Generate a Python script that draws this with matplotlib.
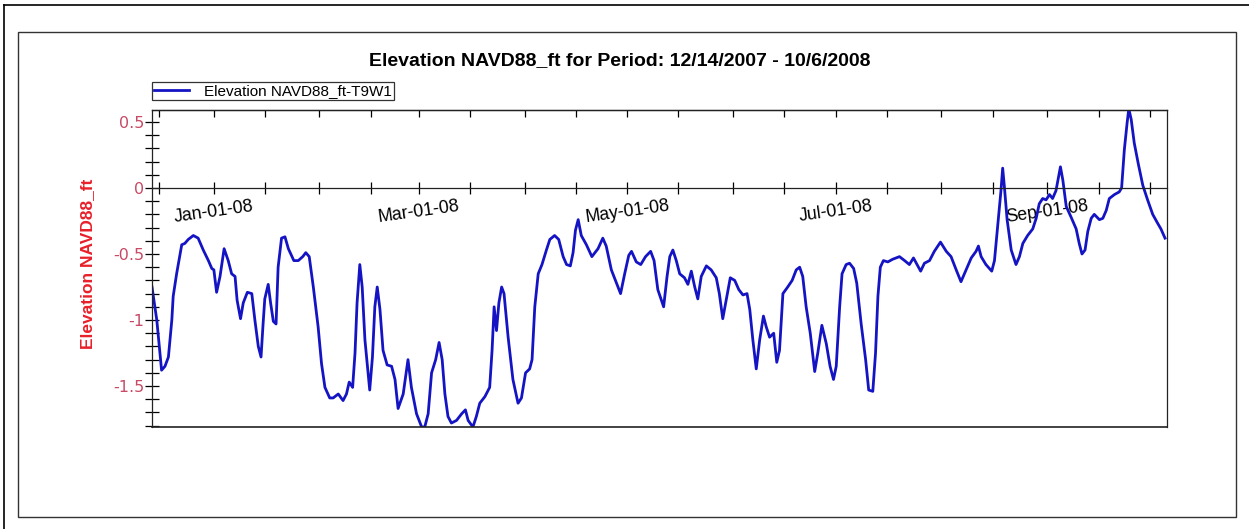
import numpy as np
import pandas as pd
import matplotlib

matplotlib.use("Agg")
import matplotlib.pyplot as plt
import matplotlib.dates as mdates
from matplotlib.lines import Line2D
from matplotlib.patches import Rectangle
from matplotlib.ticker import MultipleLocator, FuncFormatter, NullFormatter

plt.rcParams["font.family"] = ["Liberation Sans", "DejaVu Sans"]

# record start and period shown on the chart
period_start = "2007-12-14"
period_end = "2008-10-06"
series_name = "Elevation NAVD88_ft-T9W1"

# days since 12/14/2007
day_offset = [
    0.0, 1.4, 2.8, 3.8, 4.8, 5.8, 6.2, 7.2, 8.7, 9.6, 10.6, 12.1, 13.5, 15.0,
    16.5, 17.5, 18.1, 18.9, 19.9, 21.1, 22.3, 23.3, 24.3, 24.9, 25.9, 26.7,
    27.9, 29.2, 30.1, 31.1, 31.9, 32.5, 33.0, 34.0, 34.7, 35.5, 36.3, 36.9,
    37.9, 38.9, 39.9, 41.5, 42.8, 44.1, 45.0, 46.0, 47.2, 48.6, 49.6, 50.6,
    52.0, 53.0, 54.5, 55.9, 56.9, 57.7, 58.7, 59.4, 60.0, 60.8, 61.5, 62.3,
    63.7, 64.5, 65.2, 65.9, 66.7, 67.6, 68.8, 70.1, 71.1, 72.0, 73.5, 74.9,
    75.9, 77.4, 78.9, 79.8, 80.8, 81.8, 83.0, 84.0, 84.9, 85.7, 86.6, 87.6,
    89.1, 90.6, 91.7, 92.5, 93.9, 94.9, 95.9, 97.4, 98.8, 99.5, 100.1, 100.8,
    101.5, 102.3, 103.0, 104.2, 105.6, 107.1, 108.1, 109.3, 110.5, 111.2,
    112.0, 113.0, 114.1, 115.4, 116.4, 117.8, 119.0, 120.3, 121.3, 122.4,
    123.2, 123.9, 124.7, 125.6, 127.1, 128.7, 130.5, 131.9, 132.9, 134.4,
    135.9, 137.1, 138.3, 139.5, 140.3, 141.7, 143.0, 144.4, 145.9, 146.9,
    148.0, 149.7, 150.7, 151.5, 152.4, 153.4, 154.4, 155.8, 156.8, 157.8,
    158.8, 159.7, 160.7, 162.2, 163.6, 165.1, 166.0, 167.0, 168.0, 169.2,
    170.5, 171.7, 172.9, 174.1, 174.9, 175.8, 176.8, 177.8, 178.9, 179.7,
    180.7, 181.9, 182.8, 183.6, 184.6, 186.0, 187.3, 188.5, 189.5, 190.4,
    191.4, 192.6, 193.9, 194.8, 196.0, 197.3, 198.4, 199.4, 200.2, 201.2,
    201.9, 203.1, 204.1, 205.3, 206.2, 207.5, 208.8, 209.7, 210.9, 211.7,
    212.4, 213.1, 214.0, 215.3, 216.7, 218.7, 220.2, 221.6, 222.8, 224.9,
    226.0, 227.5, 228.9, 230.7, 232.4, 233.8, 235.3, 236.7, 238.2, 239.7,
    241.1, 241.8, 242.6, 244.0, 245.7, 246.5, 247.7, 248.4, 248.9, 249.4,
    250.2, 251.4, 252.8, 253.8, 254.8, 256.2, 257.7, 258.7, 259.6, 260.6,
    261.6, 262.6, 263.5, 264.5, 265.8, 266.5, 267.5, 268.9, 270.4, 271.3,
    272.1, 273.0, 273.8, 274.8, 275.7, 277.2, 278.2, 279.2, 280.1, 281.6,
    283.0, 283.7, 284.5, 285.3, 285.8, 286.5, 287.4, 288.6, 289.9, 291.3,
    292.8, 294.3, 295.2, 296.4,
]

elevation_ft = [
    -0.75, -1.00, -1.38, -1.35, -1.28, -1.00, -0.82, -0.65, -0.43, -0.42,
    -0.39, -0.36, -0.38, -0.47, -0.55, -0.61, -0.62, -0.79, -0.67, -0.46,
    -0.55, -0.65, -0.67, -0.85, -0.99, -0.87, -0.79, -0.80, -1.00, -1.20,
    -1.28, -1.03, -0.84, -0.73, -0.87, -1.01, -1.03, -0.60, -0.38, -0.37,
    -0.46, -0.55, -0.55, -0.52, -0.49, -0.52, -0.75, -1.05, -1.33, -1.51,
    -1.59, -1.59, -1.56, -1.61, -1.56, -1.47, -1.51, -1.25, -0.87, -0.58,
    -0.75, -1.15, -1.53, -1.28, -0.90, -0.75, -0.92, -1.23, -1.34, -1.35,
    -1.45, -1.67, -1.56, -1.30, -1.51, -1.71, -1.81, -1.81, -1.71, -1.40,
    -1.30, -1.17, -1.30, -1.56, -1.73, -1.78, -1.76, -1.71, -1.68, -1.76,
    -1.81, -1.73, -1.63, -1.58, -1.51, -1.23, -0.90, -1.08, -0.87, -0.75,
    -0.80, -1.13, -1.45, -1.63, -1.59, -1.40, -1.37, -1.30, -0.90, -0.65,
    -0.58, -0.47, -0.39, -0.36, -0.39, -0.52, -0.58, -0.59, -0.49, -0.32,
    -0.24, -0.36, -0.43, -0.52, -0.46, -0.38, -0.44, -0.62, -0.72, -0.80,
    -0.65, -0.51, -0.48, -0.56, -0.58, -0.52, -0.48, -0.55, -0.77, -0.90,
    -0.67, -0.52, -0.47, -0.55, -0.65, -0.68, -0.73, -0.63, -0.75, -0.84,
    -0.67, -0.59, -0.62, -0.68, -0.80, -0.99, -0.85, -0.68, -0.70, -0.77,
    -0.81, -0.80, -0.92, -1.15, -1.37, -1.15, -0.97, -1.05, -1.13, -1.10,
    -1.32, -1.23, -0.80, -0.75, -0.70, -0.62, -0.60, -0.67, -0.90, -1.10,
    -1.39, -1.25, -1.04, -1.18, -1.35, -1.45, -1.35, -0.90, -0.65, -0.58,
    -0.57, -0.61, -0.72, -1.03, -1.30, -1.53, -1.54, -1.25, -0.82, -0.60,
    -0.55, -0.56, -0.54, -0.52, -0.55, -0.58, -0.53, -0.63, -0.57, -0.55,
    -0.48, -0.41, -0.48, -0.52, -0.62, -0.71, -0.62, -0.53, -0.48, -0.44,
    -0.52, -0.58, -0.63, -0.55, -0.22, -0.02, 0.15, 0.01, -0.24, -0.47,
    -0.58, -0.52, -0.42, -0.36, -0.31, -0.23, -0.12, -0.08, -0.09, -0.05,
    -0.08, -0.02, 0.16, 0.06, -0.14, -0.22, -0.31, -0.42, -0.50, -0.47,
    -0.33, -0.23, -0.20, -0.24, -0.23, -0.17, -0.08, -0.05, -0.03, 0.00,
    0.29, 0.49, 0.60, 0.52, 0.34, 0.18, 0.02, -0.09, -0.20, -0.27, -0.31,
    -0.38,
]

y_limits = (-1.81, 0.59)

dates = pd.Timestamp(period_start) + pd.to_timedelta(day_offset, unit="D")

fig = plt.figure(figsize=(12.49, 5.29), dpi=100)
fig.patch.set_facecolor("white")

# picture frames (outer page edge and inner chart box)
fig.add_artist(Line2D([0.0032, 0.0032], [0.0, 0.9905], transform=fig.transFigure,
                      color="black", lw=1.2))
fig.add_artist(Line2D([0.0032, 1.0], [0.9905, 0.9905], transform=fig.transFigure,
                      color="black", lw=1.2))
fig.add_artist(Rectangle((0.0144, 0.0227), 0.9752, 0.9168, transform=fig.transFigure,
                         fill=False, edgecolor="#333333", lw=1.0))

ax = fig.add_axes([0.1217, 0.1928, 0.8127, 0.5992])
line, = ax.plot(dates, elevation_ft, color="#1414c4", lw=2.0, label=series_name)

ax.set_xlim(pd.Timestamp(period_start), pd.Timestamp(period_end))
ax.set_ylim(*y_limits)

# x axis drawn along the zero line
ax.spines["bottom"].set_position(("data", 0))
for s in ax.spines.values():
    s.set_linewidth(0.9)
    s.set_color("#222222")
ax.plot([0, 1], [0, 0], transform=ax.transAxes, color="#222222", lw=1.2, clip_on=False)

ax.xaxis.set_major_locator(mdates.DayLocator(bymonthday=(1, 16)))


def month_label(x, pos):
    d = mdates.num2date(x)
    if d.day == 1 and d.month % 2 == 1:
        return d.strftime("%b-%d-%y")
    return ""


ax.xaxis.set_major_formatter(FuncFormatter(month_label))
ax.tick_params(axis="x", direction="inout", length=9, width=0.9, pad=2.5,
               labelsize=12.8, rotation=8)

top = ax.secondary_xaxis("top")
top.xaxis.set_major_locator(mdates.DayLocator(bymonthday=(1, 16)))
top.xaxis.set_major_formatter(NullFormatter())
top.tick_params(direction="in", length=5, width=0.9)
top.spines["top"].set_linewidth(0.9)

ax.yaxis.set_major_locator(MultipleLocator(0.5))
ax.yaxis.set_minor_locator(MultipleLocator(0.1))
ax.yaxis.set_major_formatter(FuncFormatter(lambda v, p: f"{v:g}"))
ax.tick_params(axis="y", which="both", direction="inout", length=10, width=0.9,
               pad=0.5, labelsize=11.5, labelcolor="#c84a64")
for lbl in ax.get_yticklabels():
    lbl.set_family("DejaVu Sans")

ax.set_ylabel("Elevation NAVD88_ft", color="#e8202a", fontsize=12.5, fontweight="bold")
ax.yaxis.set_label_coords(-0.0562, 0.514)

fig.text(0.4964, 0.886, "Elevation NAVD88_ft for Period: 12/14/2007 - 10/6/2008",
         ha="center", va="center", fontsize=14, fontweight="bold")

leg = fig.legend(handles=[line], loc="lower left", bbox_to_anchor=(0.1217, 0.811),
                 borderaxespad=0, fontsize=11, frameon=True, fancybox=False,
                 borderpad=0.12, handlelength=2.3, handletextpad=1.0)
leg.get_frame().set_edgecolor("black")
leg.get_frame().set_linewidth(0.9)

fig.savefig("out.png", dpi=100)
